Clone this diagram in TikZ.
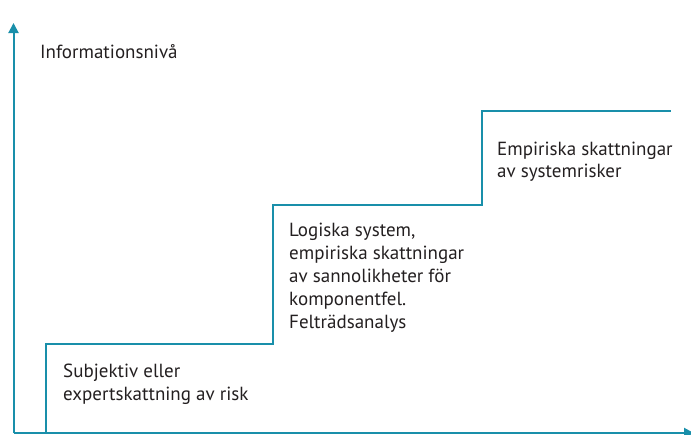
\documentclass[tikz,border=0pt]{standalone}
\usepackage{fontspec}
\setmainfont{PT Sans}
\usetikzlibrary{arrows.meta}
\definecolor{teal1}{RGB}{25,143,170}
\definecolor{txt}{RGB}{35,31,32}
\begin{document}
\begin{tikzpicture}[x=1pt,y=-1pt,
  axis/.style={draw=teal1,line width=2pt,-{Triangle[width=10pt,length=10pt]}},
  stair/.style={draw=teal1,line width=2pt},
  lbl/.style={text=txt,font=\fontsize{19}{23}\selectfont,align=left,inner sep=0pt,anchor=base west}]
\useasboundingbox (0,0) rectangle (691,434);
\coordinate (o) at (13.5,433);
\coordinate (ytop) at (13.5,23);
\coordinate (xend) at (694,433);
\draw[axis] (o) -- (ytop);
\draw[axis] (o) -- (xend);
\coordinate (s0) at (46,433);
\coordinate (s1) at (46,344);
\coordinate (s2) at (273,344);
\coordinate (s3) at (273,205);
\coordinate (s4) at (482,205);
\coordinate (s5) at (482,111);
\coordinate (s6) at (671,111);
\draw[stair] (s0) -- (s1) -- (s2) -- (s3) -- (s4) -- (s5) -- (s6);
\node[lbl] (ylab) at (40,58) {Informationsnivå};
\node[lbl] (t1a) at (63,377) {Subjektiv eller};
\node[lbl] (t1b) at (63,400) {expertskattning av risk};
\node[lbl] (t2a) at (289,236) {Logiska system,};
\node[lbl] (t2b) at (289,259) {empiriska skattningar};
\node[lbl] (t2c) at (289,282) {av sannolikheter för};
\node[lbl] (t2d) at (289,305) {komponentfel.};
\node[lbl] (t2e) at (289,328) {Felträdsanalys};
\node[lbl] (t3a) at (497,155) {Empiriska skattningar};
\node[lbl] (t3b) at (497,177) {av systemrisker};
\end{tikzpicture}
\end{document}
